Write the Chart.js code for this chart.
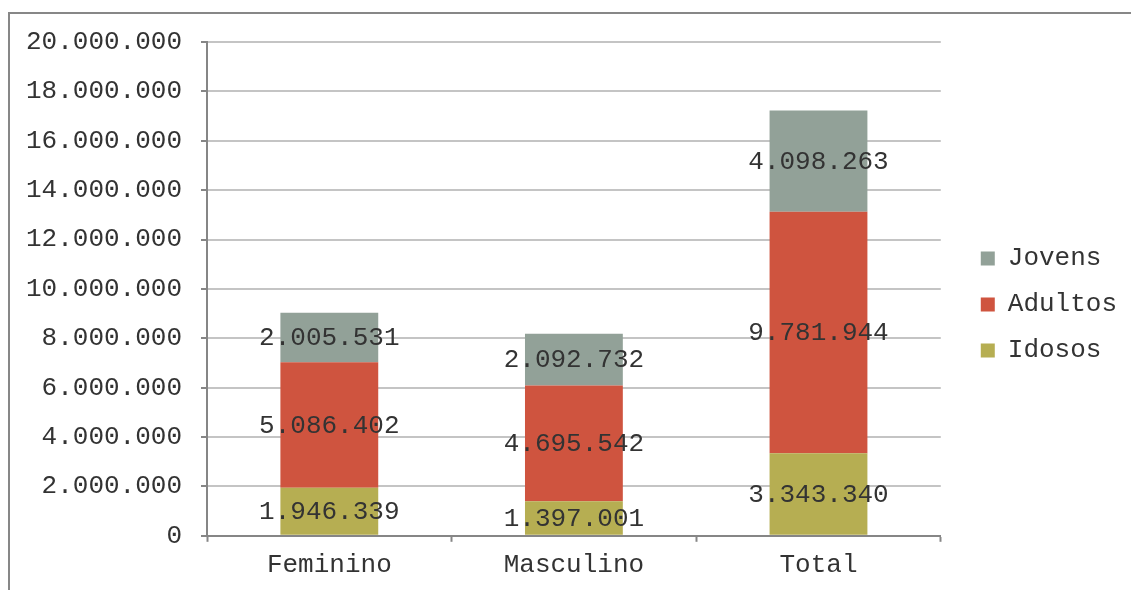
<!DOCTYPE html>
<html>
<head>
<meta charset="utf-8">
<script src="https://cdn.jsdelivr.net/npm/chart.js@4/dist/chart.umd.min.js"></script>
<style>
  body { margin: 0; background: #fff; }
  #wrap { position: relative; width: 1131px; height: 590px; overflow: hidden; }
  #frame { position: absolute; left: 8px; top: 12px; width: 1200px; height: 700px;
           border-left: 2px solid #878787; border-top: 2px solid #878787; }
  canvas { position: absolute; left: 0; top: 0; }
</style>
</head>
<body>
<div id="wrap">
  <div id="frame"></div>
  <canvas id="chart" width="1131" height="590"></canvas>
</div>
<script>
const categories = ['Feminino', 'Masculino', 'Total'];
const idosos = [1946339, 1397001, 3343340];
const adultos = [5086402, 4695542, 9781944];
const jovens = [2005531, 2092732, 4098263];
const yTicks = [0, 2000000, 4000000, 6000000, 8000000, 10000000, 12000000, 14000000, 16000000, 18000000, 20000000];

const FONT = { family: '"Liberation Mono", "Courier New", monospace', size: 26 };
const TEXT = '#333';

function fmt(v) {
  return String(v).replace(/\B(?=(\d{3})+(?!\d))/g, '.');
}

// value labels in the middle of each segment
const valueLabels = {
  id: 'valueLabels',
  afterDatasetsDraw(chart) {
    const ctx = chart.ctx;
    ctx.save();
    ctx.font = `${FONT.size}px ${FONT.family}`;
    ctx.fillStyle = TEXT;
    ctx.textAlign = 'center';
    ctx.textBaseline = 'middle';
    chart.data.datasets.forEach((ds, i) => {
      chart.getDatasetMeta(i).data.forEach((bar, j) => {
        const p = bar.getCenterPoint();
        ctx.fillText(fmt(ds.data[j]), p.x, p.y + 1);
      });
    });
    ctx.restore();
  }
};

// nudge the legend block to where the original sits
const legendShift = {
  id: 'legendShift',
  afterLayout(chart) {
    const lg = chart.legend;
    lg.left += 20; lg.right += 20;
    lg.top -= 11; lg.bottom -= 11;
  }
};

new Chart(document.getElementById('chart'), {
  type: 'bar',
  data: {
    labels: categories,
    datasets: [
      { label: 'Idosos', data: idosos, backgroundColor: '#B6AE52' },
      { label: 'Adultos', data: adultos, backgroundColor: '#CF543F' },
      { label: 'Jovens', data: jovens, backgroundColor: '#92A198' }
    ]
  },
  options: {
    responsive: false,
    devicePixelRatio: 1,
    animation: false,
    layout: { padding: { left: 7, right: 24, top: 42, bottom: 1 } },
    datasets: { bar: { categoryPercentage: 1, barPercentage: 0.4 } },
    plugins: {
      legend: {
        position: 'right',
        reverse: true,
        labels: { font: FONT, color: TEXT, boxWidth: 14, boxHeight: 14, padding: 20 }
      },
      tooltip: { enabled: false }
    },
    scales: {
      x: {
        stacked: true,
        grid: { offset: true, drawOnChartArea: false, drawTicks: true, tickLength: 6, tickColor: '#868686', tickWidth: 2 },
        border: { color: '#868686', width: 2 },
        ticks: { font: FONT, color: TEXT, padding: 8 }
      },
      y: {
        stacked: true,
        min: 0,
        max: 20000000,
        afterBuildTicks(axis) { axis.ticks = yTicks.map(v => ({ value: v })); },
        grid: { color: '#C4C4C4', lineWidth: 2, tickLength: 6, tickColor: '#868686', tickWidth: 2 },
        border: { color: '#868686', width: 2 },
        ticks: { font: FONT, color: TEXT, padding: 19, callback: v => fmt(v) }
      }
    }
  },
  plugins: [valueLabels, legendShift]
});
</script>
</body>
</html>
